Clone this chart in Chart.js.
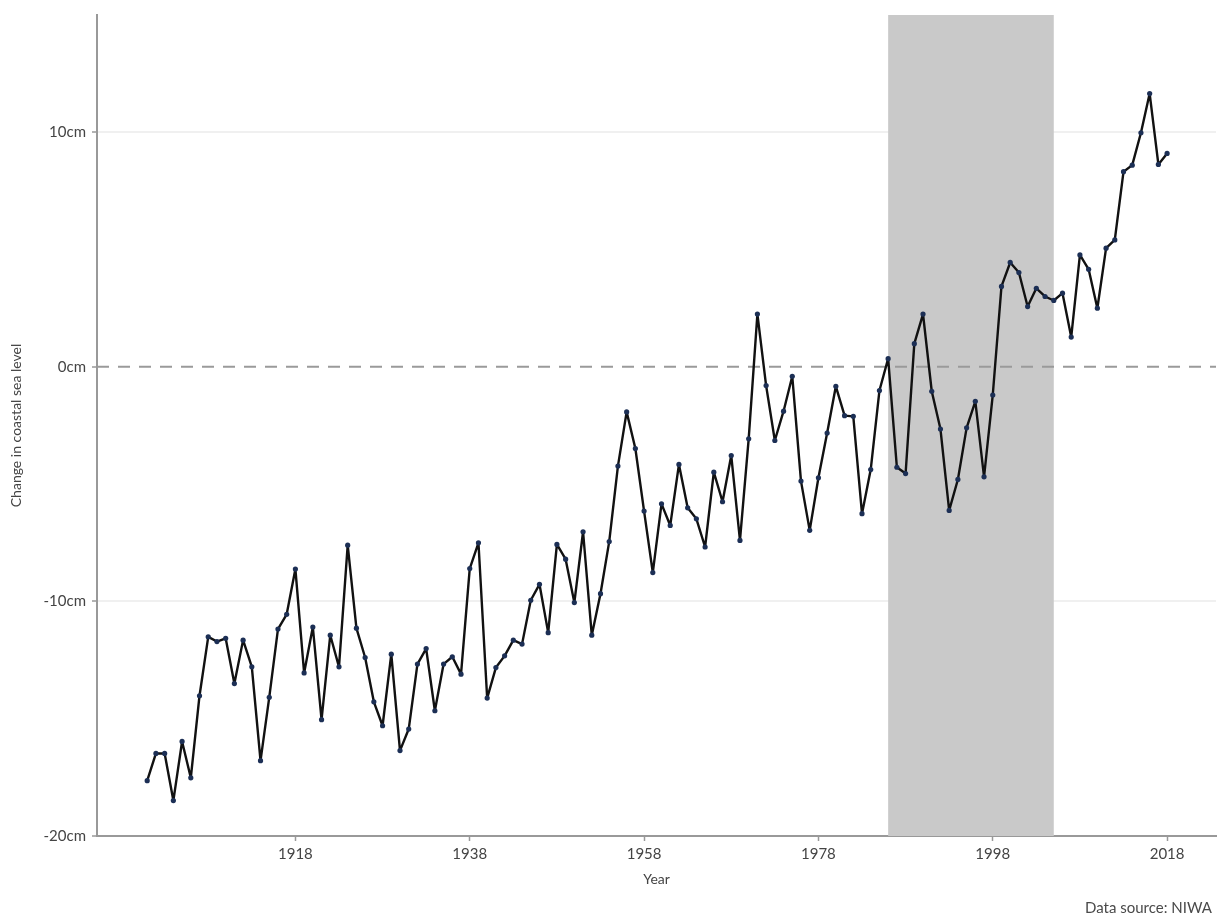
<!DOCTYPE html>
<html>
<head>
<meta charset="utf-8">
<script src="https://cdn.jsdelivr.net/npm/chart.js@4"></script>
<style>
  body { margin: 0; background: #fff; }
  .wrap { width: 1220px; height: 919px; position: relative; }
</style>
</head>
<body>
<div class="wrap"><canvas id="seaLevel"></canvas></div>
<script>
// years on the x axis
const years = [
  1901, 1902, 1903, 1904, 1905, 1906, 1907, 1908, 1909, 1910,
  1911, 1912, 1913, 1914, 1915, 1916, 1917, 1918, 1919, 1920,
  1921, 1922, 1923, 1924, 1925, 1926, 1927, 1928, 1929, 1930,
  1931, 1932, 1933, 1934, 1935, 1936, 1937, 1938, 1939, 1940,
  1941, 1942, 1943, 1944, 1945, 1946, 1947, 1948, 1949, 1950,
  1951, 1952, 1953, 1954, 1955, 1956, 1957, 1958, 1959, 1960,
  1961, 1962, 1963, 1964, 1965, 1966, 1967, 1968, 1969, 1970,
  1971, 1972, 1973, 1974, 1975, 1976, 1977, 1978, 1979, 1980,
  1981, 1982, 1983, 1984, 1985, 1986, 1987, 1988, 1989, 1990,
  1991, 1992, 1993, 1994, 1995, 1996, 1997, 1998, 1999, 2000,
  2001, 2002, 2003, 2004, 2005, 2006, 2007, 2008, 2009, 2010,
  2011, 2012, 2013, 2014, 2015, 2016, 2017, 2018
];

// change in coastal sea level, cm
const seaLevel = [
  -17.64, -16.48, -16.48, -18.49, -15.97, -17.52, -14.02, -11.51, -11.71, -11.57,
  -13.5, -11.65, -12.79, -16.79, -14.09, -11.18, -10.55, -8.62, -13.05, -11.09,
  -15.04, -11.44, -12.79, -7.6, -11.14, -12.39, -14.28, -15.3, -12.25, -16.36,
  -15.44, -12.67, -12.01, -14.66, -12.67, -12.36, -13.1, -8.6, -7.5, -14.12,
  -12.82, -12.32, -11.65, -11.82, -9.95, -9.27, -11.33, -7.57, -8.2, -10.05,
  -7.03, -11.44, -9.67, -7.45, -4.23, -1.92, -3.48, -6.15, -8.77, -5.84,
  -6.76, -4.16, -6.01, -6.48, -7.68, -4.49, -5.75, -3.78, -7.4, -3.07,
  2.25, -0.8, -3.14, -1.89, -0.4, -4.87, -6.97, -4.73, -2.82, -0.83,
  -2.08, -2.11, -6.26, -4.38, -1.01, 0.35, -4.28, -4.55, 0.99, 2.25,
  -1.04, -2.65, -6.12, -4.8, -2.6, -1.47, -4.69, -1.2, 3.43, 4.45,
  4.02, 2.57, 3.35, 3.0, 2.83, 3.14, 1.27, 4.77, 4.16, 2.5,
  5.06, 5.41, 8.32, 8.6, 9.98, 11.65, 8.63, 9.1
];

const xTicks = [1918, 1938, 1958, 1978, 1998, 2018];
const yTicks = [-20, -10, 0, 10];

// grey band
const shadeStart = 1986;
const shadeEnd = 2005;

const points = years.map((yr, i) => ({ x: yr, y: seaLevel[i] }));

const fontFam = 'Lato, "Open Sans", sans-serif';

// band + dashed zero line + source note
const extras = {
  id: 'extras',
  beforeDatasetsDraw(chart) {
    const ctx = chart.ctx;
    const xs = chart.scales.x, ys = chart.scales.y;
    const area = chart.chartArea;

    ctx.save();
    ctx.fillStyle = '#c9c9c9';
    var x1 = xs.getPixelForValue(shadeStart);
    var x2 = xs.getPixelForValue(shadeEnd);
    ctx.fillRect(x1, area.top, x2 - x1, area.bottom - area.top);

    var y0 = ys.getPixelForValue(0);
    ctx.strokeStyle = '#9a9a9a';
    ctx.lineWidth = 2;
    ctx.setLineDash([12, 9]);
    ctx.beginPath();
    ctx.moveTo(area.left, y0);
    ctx.lineTo(area.right, y0);
    ctx.stroke();
    ctx.restore();
  },
  afterDraw(chart) {
    const ctx = chart.ctx;
    ctx.save();
    ctx.font = '15px ' + fontFam;
    ctx.fillStyle = '#4a4a4a';
    ctx.textAlign = 'right';
    ctx.textBaseline = 'middle';
    ctx.fillText('Data source: NIWA', 1212, 908);
    ctx.restore();
  }
};

const config = {
  type: 'line',
  data: {
    datasets: [{
      label: 'Change in coastal sea level',
      data: points,
      borderColor: '#111',
      borderWidth: 2.4,
      borderJoinStyle: 'round',
      borderCapStyle: 'round',
      backgroundColor: '#1c2f55',
      pointBackgroundColor: '#1c2f55',
      pointBorderWidth: 0,
      pointRadius: 2.6,
      tension: 0
    }]
  },
  options: {
    responsive: true,
    maintainAspectRatio: false,
    animation: false,
    layout: { padding: { top: 12, right: 2, left: 0, bottom: 30 } },
    plugins: {
      legend: { display: false },
      tooltip: { enabled: false }
    },
    scales: {
      x: {
        type: 'linear',
        min: 1895.24,
        max: 2023.61,
        afterBuildTicks: (scale) => { scale.ticks = xTicks.map(v => ({ value: v })); },
        afterFit: (scale) => { scale.height = 53; },
        ticks: {
          color: '#444',
          font: { family: fontFam, size: 15 },
          padding: 4,
          maxRotation: 0,
          callback: (v) => String(v)
        },
        grid: {
          drawOnChartArea: false,
          tickLength: 5,
          tickColor: '#999',
          tickWidth: 1.5
        },
        border: { color: '#999', width: 2 },
        title: {
          display: true,
          text: 'Year',
          color: '#444',
          font: { family: fontFam, size: 14 },
          padding: { top: 0, bottom: 1 }
        }
      },
      y: {
        min: -20,
        max: 15,
        afterBuildTicks: (scale) => { scale.ticks = yTicks.map(v => ({ value: v })); },
        afterFit: (scale) => { scale.width = 97; },
        ticks: {
          color: '#444',
          font: { family: fontFam, size: 15 },
          padding: 6,
          callback: (v) => v + 'cm'
        },
        grid: {
          color: (c) => (c.tick && Math.abs(c.tick.value) === 10) ? '#f0f0f0' : 'rgba(0,0,0,0)',
          lineWidth: 2,
          tickLength: 5,
          tickColor: '#999',
          tickWidth: 1.5
        },
        border: { color: '#999', width: 2 },
        title: {
          display: true,
          text: 'Change in coastal sea level',
          color: '#444',
          font: { family: fontFam, size: 14 },
          padding: { top: 8, bottom: 0 }
        }
      }
    }
  },
  plugins: [extras]
};

const seaChart = new Chart(document.getElementById('seaLevel'), config);
</script>
</body>
</html>
